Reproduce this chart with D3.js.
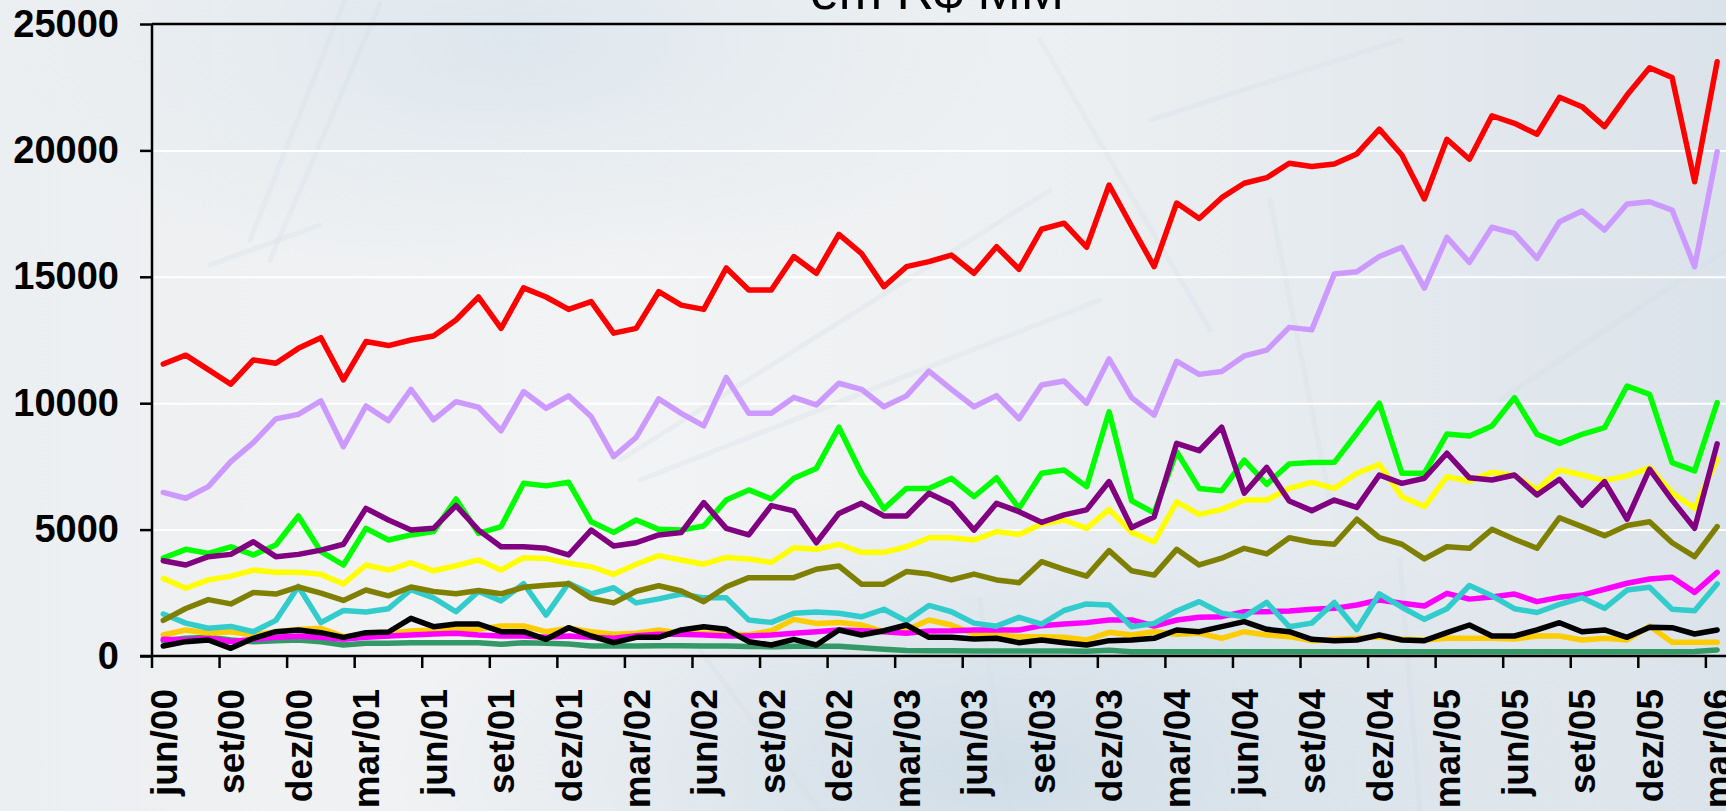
<!DOCTYPE html>
<html>
<head>
<meta charset="utf-8">
<script src="https://cdn.jsdelivr.net/npm/d3@7"></script>
<style>
  html, body { margin: 0; padding: 0; overflow: hidden; background: #eef0f2; }
  svg { display: block; }
  text { font-family: Arial, "Liberation Sans", sans-serif; }
</style>
</head>
<body>
<div id="chart"></div>
<script>
// Month names (pt-BR) and first month of the series
const monthNames = ["jan", "fev", "mar", "abr", "mai", "jun", "jul", "ago", "set", "out", "nov", "dez"];
const startMonth = 5, startYear = 2000, nMonths = 70;

// y axis ticks
const yTicks = [0, 5000, 10000, 15000, 20000, 25000];

// Series values (R$ MM), jun/00 .. mar/06
const red = [11550, 11900, 11330, 10750, 11710, 11580, 12170, 12590, 10920, 12440, 12280, 12500, 12660, 13290, 14200, 12960, 14560, 14200, 13710, 14020,
  12770, 12960, 14410, 13880, 13710, 15350, 14480, 14480, 15800, 15140, 16680, 15930, 14610, 15400, 15600, 15860, 15140, 16190, 15300, 16880,
  17120, 16170, 18630, 17000, 15400, 17920, 17310, 18130, 18700, 18920, 19490, 19360, 19460, 19860, 20840, 19820, 18080, 20440, 19650, 21370,
  21070, 20640, 22100, 21730, 20940, 22190, 23270, 22880, 18760, 23510];
const lavender = [6470, 6240, 6700, 7690, 8440, 9380, 9560, 10090, 8280, 9890, 9310, 10550, 9340, 10060, 9840, 8910, 10460, 9800, 10290, 9470,
  7890, 8650, 10170, 9600, 9100, 11020, 9600, 9600, 10230, 9930, 10790, 10550, 9860, 10290, 11270, 10550, 9860, 10300, 9380, 10720,
  10880, 10000, 11750, 10220, 9530, 11660, 11140, 11250, 11870, 12100, 13000, 12900, 15110, 15200, 15800, 16170, 14550, 16560, 15570, 16960,
  16720, 15730, 17180, 17600, 16850, 17880, 17970, 17640, 15400, 19950];
const green = [3870, 4220, 4060, 4320, 4000, 4390, 5540, 4130, 3600, 5050, 4590, 4790, 4920, 6210, 4850, 5120, 6830, 6730, 6870, 5310,
  4890, 5380, 5010, 4980, 5140, 6170, 6570, 6210, 7030, 7420, 9050, 7230, 5820, 6630, 6630, 7030, 6300, 7050, 5840, 7230,
  7360, 6700, 9660, 6140, 5660, 8080, 6630, 6540, 7750, 6790, 7600, 7650, 7660, 8810, 10000, 7230, 7230, 8780, 8700, 9100,
  10220, 8770, 8410, 8770, 9030, 10680, 10350, 7650, 7320, 10020];
const purple = [3770, 3600, 3930, 4020, 4520, 3930, 4020, 4190, 4420, 5840, 5380, 4980, 5050, 5950, 4980, 4320, 4320, 4260, 4000, 4980,
  4350, 4480, 4790, 4880, 6070, 5050, 4790, 5950, 5740, 4480, 5640, 6040, 5540, 5540, 6440, 6010, 4980, 6040, 5710, 5290,
  5580, 5780, 6900, 5080, 5500, 8410, 8120, 9050, 6440, 7460, 6130, 5750, 6170, 5880, 7160, 6830, 7030, 8020, 7050, 6960,
  7160, 6370, 6990, 5970, 6900, 5410, 7390, 6170, 5050, 8390];
const yellow = [3070, 2680, 3010, 3160, 3400, 3310, 3310, 3230, 2850, 3600, 3400, 3690, 3370, 3570, 3800, 3400, 3890, 3860, 3670, 3530,
  3230, 3630, 3970, 3800, 3630, 3900, 3840, 3700, 4280, 4220, 4420, 4100, 4100, 4320, 4680, 4680, 4590, 4920, 4810, 5220,
  5380, 5050, 5800, 4890, 4510, 6100, 5600, 5800, 6170, 6170, 6630, 6870, 6630, 7230, 7580, 6300, 5910, 7090, 6920, 7270,
  7130, 6590, 7360, 7160, 6940, 7130, 7450, 6460, 5840, 7790];
const olive = [1410, 1880, 2230, 2060, 2510, 2450, 2730, 2490, 2200, 2610, 2380, 2730, 2550, 2460, 2590, 2460, 2720, 2800, 2860, 2280,
  2100, 2560, 2780, 2570, 2150, 2740, 3100, 3100, 3100, 3430, 3560, 2840, 2840, 3340, 3240, 3010, 3240, 3010, 2900, 3730,
  3430, 3160, 4170, 3370, 3200, 4220, 3600, 3870, 4260, 4040, 4680, 4500, 4420, 5410, 4680, 4420, 3840, 4320, 4260, 5010,
  4620, 4260, 5470, 5120, 4760, 5160, 5310, 4480, 3930, 5120];
const cyan = [1660, 1300, 1100, 1170, 960, 1410, 2750, 1320, 1800, 1740, 1870, 2620, 2300, 1750, 2550, 2180, 2860, 1620, 2880, 2460,
  2700, 2100, 2260, 2450, 2300, 2300, 1420, 1330, 1690, 1740, 1690, 1550, 1850, 1380, 2000, 1750, 1300, 1180, 1530, 1260,
  1800, 2060, 2020, 1160, 1290, 1780, 2150, 1690, 1555, 2120, 1160, 1300, 2120, 1040, 2460, 1930, 1450, 1870, 2790, 2380,
  1870, 1720, 2040, 2300, 1885, 2610, 2716, 1846, 1793, 2850];
const magenta = [660, 633, 700, 567, 660, 738, 791, 738, 660, 738, 791, 830, 870, 897, 830, 791, 791, 738, 791, 738,
  700, 800, 857, 857, 830, 791, 791, 830, 897, 962, 1030, 1000, 962, 897, 990, 1000, 1030, 1030, 1030, 1200,
  1266, 1320, 1424, 1424, 1187, 1424, 1530, 1555, 1753, 1753, 1780, 1846, 1885, 2017, 2215, 2084, 1978, 2480, 2250, 2330,
  2450, 2150, 2320, 2410, 2640, 2877, 3046, 3112, 2517, 3310];
const orange = [830, 1030, 897, 962, 830, 960, 1050, 1095, 765, 857, 897, 990, 1030, 1055, 1055, 1187, 1187, 962, 1095, 962,
  857, 897, 1030, 897, 897, 870, 843, 1000, 1450, 1290, 1330, 1226, 962, 1030, 1424, 1226, 870, 830, 765, 765,
  738, 633, 937, 830, 962, 857, 897, 700, 962, 830, 765, 607, 660, 700, 765, 660, 633, 700, 700, 700,
  672, 791, 791, 633, 700, 633, 1187, 540, 540, 540];
const black = [396, 567, 633, 303, 700, 962, 1030, 923, 738, 923, 950, 1490, 1160, 1266, 1266, 962, 962, 660, 1120, 791,
  527, 738, 738, 1030, 1160, 1055, 567, 435, 660, 435, 1030, 830, 1000, 1226, 738, 738, 672, 700, 527, 633,
  527, 435, 607, 633, 700, 1030, 962, 1160, 1358, 1055, 962, 660, 607, 633, 830, 633, 607, 923, 1226, 791,
  791, 1030, 1318, 962, 1030, 738, 1134, 1120, 870, 1030];
const seaGreen = [607, 700, 738, 633, 567, 607, 633, 567, 435, 500, 500, 527, 527, 527, 527, 462, 527, 500, 475, 400,
  400, 400, 410, 410, 400, 400, 380, 370, 390, 390, 390, 330, 270, 220, 210, 210, 200, 200, 200, 200,
  200, 190, 230, 170, 170, 170, 170, 170, 170, 170, 170, 170, 170, 170, 170, 170, 170, 170, 170, 170,
  170, 170, 170, 170, 170, 170, 170, 170, 175, 240];

// Drawing order (first = bottom) and colours
const series = [
  {values: seaGreen, color: "#339966"},
  {values: orange, color: "#FFCC00"},
  {values: magenta, color: "#FF00FF"},
  {values: cyan, color: "#33CCCC"},
  {values: olive, color: "#808000"},
  {values: yellow, color: "#FFFF00"},
  {values: green, color: "#00FF00"},
  {values: purple, color: "#800080"},
  {values: lavender, color: "#CC99FF"},
  {values: black, color: "#000000"},
  {values: red, color: "#FF0000"}
];

// Category labels jun/00 .. mar/06
const categories = d3.range(nMonths).map(i => {
  const m = (startMonth + i) % 12;
  const yr = startYear + Math.floor((startMonth + i) / 12);
  return monthNames[m] + "/" + String(yr % 100).padStart(2, "0");
});

// Layout
const width = 1726, height = 811;
const plot = {left: 152, top: 24, bottom: 656, step: 22.52};

const svg = d3.select("#chart")
  .append("svg")
  .attr("width", width)
  .attr("height", height);

// Background (soft photo-like wash)
const defs = svg.append("defs");
const bg = defs.append("linearGradient").attr("id", "bg").attr("x1", 0).attr("x2", 1).attr("y1", 0).attr("y2", 0);
bg.append("stop").attr("offset", "0%").attr("stop-color", "#eceff1");
bg.append("stop").attr("offset", "35%").attr("stop-color", "#f2f3f4");
bg.append("stop").attr("offset", "60%").attr("stop-color", "#edf0f2");
bg.append("stop").attr("offset", "85%").attr("stop-color", "#e2e8ed");
bg.append("stop").attr("offset", "100%").attr("stop-color", "#dbe3ea");
const glow = defs.append("radialGradient").attr("id", "glow").attr("cx", 0.58).attr("cy", 0.95).attr("r", 0.35);
glow.append("stop").attr("offset", "0%").attr("stop-color", "#cddbe6").attr("stop-opacity", 0.9);
glow.append("stop").attr("offset", "100%").attr("stop-color", "#cddbe6").attr("stop-opacity", 0);
const glow2 = defs.append("radialGradient").attr("id", "glow2").attr("cx", 0.3).attr("cy", 0.05).attr("r", 0.3);
glow2.append("stop").attr("offset", "0%").attr("stop-color", "#d9e4ec").attr("stop-opacity", 0.8);
glow2.append("stop").attr("offset", "100%").attr("stop-color", "#d9e4ec").attr("stop-opacity", 0);

svg.append("rect").attr("width", width).attr("height", height).attr("fill", "url(#bg)");
svg.append("rect").attr("width", width).attr("height", height).attr("fill", "url(#glow)");
svg.append("rect").attr("width", width).attr("height", height).attr("fill", "url(#glow2)");

// faint building structure in the background picture
const deco = svg.append("g").attr("fill", "none").attr("stroke-linecap", "round");
[[[380, 4], [270, 260]], [[345, 0], [250, 240]], [[210, 265], [320, 225]],
 [[620, 460], [1050, 190]], [[640, 480], [1100, 300]], [[1040, 40], [1210, 330]],
 [[1150, 120], [1400, 40]], [[1270, 200], [1330, 500]], [[980, 600], [1010, 811]],
 [[1400, 560], [1420, 811]], [[700, 650], [820, 811]], [[1500, 400], [1726, 250]]]
  .forEach(seg => {
    deco.append("line")
      .attr("x1", seg[0][0]).attr("y1", seg[0][1]).attr("x2", seg[1][0]).attr("y2", seg[1][1])
      .attr("stroke", "#cfdce6").attr("stroke-width", 5).attr("opacity", 0.25);
  });

// Scales
const x = d3.scaleBand()
  .domain(categories)
  .range([plot.left, plot.left + plot.step * nMonths])
  .padding(0);
const y = d3.scaleLinear().domain([0, 25000]).range([plot.bottom, plot.top]);
const cx = c => x(c) + x.bandwidth() / 2;

// White gridlines
svg.append("g")
  .attr("transform", "translate(" + plot.left + ",0)")
  .call(d3.axisLeft(y).tickValues(yTicks.slice(1, -1)).tickSize(-(width - plot.left)).tickFormat(""))
  .call(g => g.select(".domain").remove())
  .call(g => g.selectAll("line").attr("stroke", "#ffffff").attr("stroke-width", 2));

// Title (cut off at the top of the picture)
svg.append("text")
  .attr("x", 937)
  .attr("y", 9)
  .attr("text-anchor", "middle")
  .attr("font-size", 52)
  .attr("fill", "#000")
  .text("em R$ MM");

// Lines
const line = d3.line()
  .x((d, i) => cx(categories[i]))
  .y(d => y(d));

svg.append("g")
  .selectAll("path")
  .data(series)
  .join("path")
  .attr("d", d => line(d.values))
  .attr("fill", "none")
  .attr("stroke", d => d.color)
  .attr("stroke-width", 5.5)
  .attr("stroke-linejoin", "round")
  .attr("stroke-linecap", "round");

// Top frame line
svg.append("line")
  .attr("x1", plot.left).attr("x2", width)
  .attr("y1", y(25000)).attr("y2", y(25000))
  .attr("stroke", "#000").attr("stroke-width", 2.5);

// Y axis
svg.append("g")
  .attr("transform", "translate(" + plot.left + ",0)")
  .call(d3.axisLeft(y).tickValues(yTicks).tickSize(12).tickPadding(21).tickFormat(d3.format("d")))
  .call(g => g.select(".domain").attr("stroke", "#000").attr("stroke-width", 2.5).attr("d", "M0," + plot.top + "V" + plot.bottom))
  .call(g => g.selectAll(".tick line").attr("stroke", "#000").attr("stroke-width", 2.5))
  .call(g => g.selectAll(".tick text")
    .attr("font-family", "Arial, 'Liberation Sans', sans-serif")
    .attr("font-size", 38).attr("font-weight", "bold").attr("fill", "#000"));

// X axis: line, tick marks between categories every 3 months, rotated labels
const tickCats = categories.filter((c, i) => i % 3 === 0);
svg.append("line")
  .attr("x1", plot.left - 12).attr("x2", width)
  .attr("y1", plot.bottom).attr("y2", plot.bottom)
  .attr("stroke", "#000").attr("stroke-width", 2.5);

svg.append("g")
  .selectAll("line")
  .data(tickCats)
  .join("line")
  .attr("x1", d => x(d)).attr("x2", d => x(d))
  .attr("y1", plot.bottom).attr("y2", plot.bottom + 12)
  .attr("stroke", "#000").attr("stroke-width", 2.5);

svg.append("g")
  .selectAll("text")
  .data(tickCats)
  .join("text")
  .attr("transform", d => "translate(" + cx(d) + "," + 689 + ") rotate(-90)")
  .attr("dy", "0.36em")
  .attr("text-anchor", "end")
  .attr("font-size", 37)
  .attr("font-weight", "bold")
  .attr("fill", "#000")
  .text(d => d);
</script>
</body>
</html>
